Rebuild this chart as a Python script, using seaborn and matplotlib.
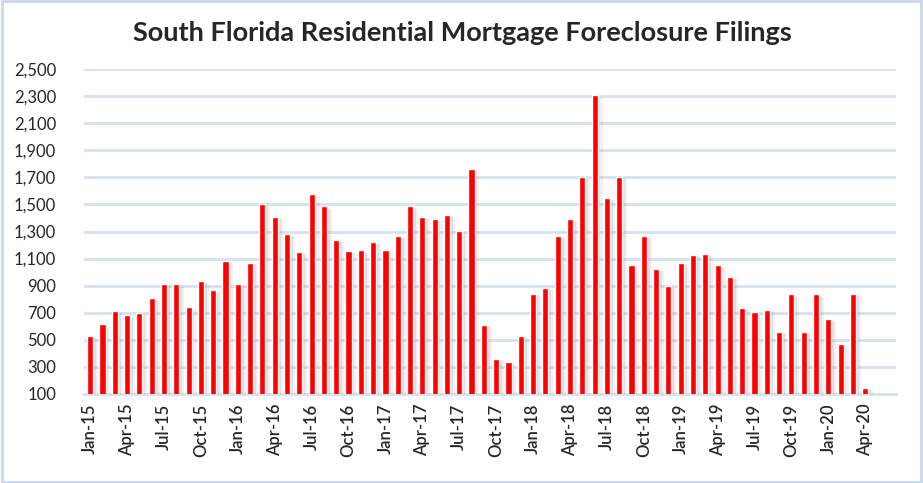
# South Florida residential mortgage foreclosure filings, monthly bars
import pandas as pd
import seaborn as sns
import matplotlib.pyplot as plt
import matplotlib.patheffects as pe
from matplotlib.patches import Rectangle

# Month labels (Jan-15 .. Apr-20)
months = pd.date_range('2015-01-01', '2020-04-01', freq='MS').strftime('%b-%y').tolist()

# Filings per month
filings = [
    525, 620, 710, 680, 700, 810, 915, 915, 745, 935, 870, 1085,
    915, 1070, 1505, 1410, 1285, 1150, 1580, 1485, 1235, 1155, 1160, 1220,
    1160, 1265, 1485, 1410, 1390, 1425, 1305, 1760, 610, 360, 340, 530,
    840, 885, 1270, 1390, 1700, 2305, 1545, 1705, 1055, 1270, 1020, 900,
    1070, 1130, 1135, 1050, 965, 735, 705, 720, 560, 835, 560, 835,
    655, 470, 840, 145,
]

# Empty months shown at the end of the date axis
pad_months = ['May-20', 'Jun-20']

y_ticks = list(range(100, 2600, 200))

df = pd.DataFrame({'Month': months, 'Filings': filings})

sns.set_style('white')
plt.rcParams['font.family'] = ['Lato', 'DejaVu Sans']

fig = plt.figure(figsize=(9.23, 4.83), dpi=100)
ax = fig.add_axes([84 / 923, 1 - 394 / 483, (896 - 84) / 923, (394 - 69) / 483])

sns.barplot(data=df, x='Month', y='Filings', color='#FF0000', width=0.5,
            saturation=1, ax=ax, zorder=3)

# soft drop shadow like the Excel bars
for bar in ax.patches:
    bar.set_path_effects([
        pe.SimplePatchShadow(offset=(3.5, -1.5), shadow_rgbFace='#909090', alpha=0.12),
        pe.SimplePatchShadow(offset=(2, -1), shadow_rgbFace='#909090', alpha=0.18),
        pe.Normal(),
    ])

n_total = len(months) + len(pad_months)
ax.set_xlim(-0.5, n_total - 0.5)
ax.set_ylim(100, 2500)
ax.set_yticks(y_ticks)
ax.set_yticklabels([f'{v:,}' for v in y_ticks], fontsize=12)
ax.yaxis.grid(True, color='#D5E0F0', linewidth=2, zorder=0)
ax.set_axisbelow(True)

label_pos = list(range(0, len(months), 3))
ax.set_xticks(label_pos)
ax.set_xticklabels([months[i] for i in label_pos], rotation=90, fontsize=12, fontweight=600)
ax.set_xticks([i - 0.5 for i in range(0, n_total + 1, 3)], minor=True)
ax.tick_params(axis='x', which='major', length=0, pad=7)
ax.tick_params(axis='x', which='minor', length=5, width=1.5, color='#D5E0F0', direction='out')
ax.tick_params(axis='y', length=0, pad=20)

ax.set_xlabel('')
ax.set_ylabel('')
for side in ['top', 'right', 'left']:
    ax.spines[side].set_visible(False)
ax.spines['bottom'].set_color('#D5E0F0')
ax.spines['bottom'].set_linewidth(2)

fig.text(462 / 923, 1 - 33 / 483, 'South Florida Residential Mortgage Foreclosure Filings',
         ha='center', va='center', fontsize=19.5, fontweight='bold')

# light blue chart border
fig.patches.append(Rectangle((0.002, 0.003), 0.996, 0.994, transform=fig.transFigure,
                             fill=False, edgecolor='#C9D8EE', linewidth=2))

fig.savefig('out.png', dpi=100)
